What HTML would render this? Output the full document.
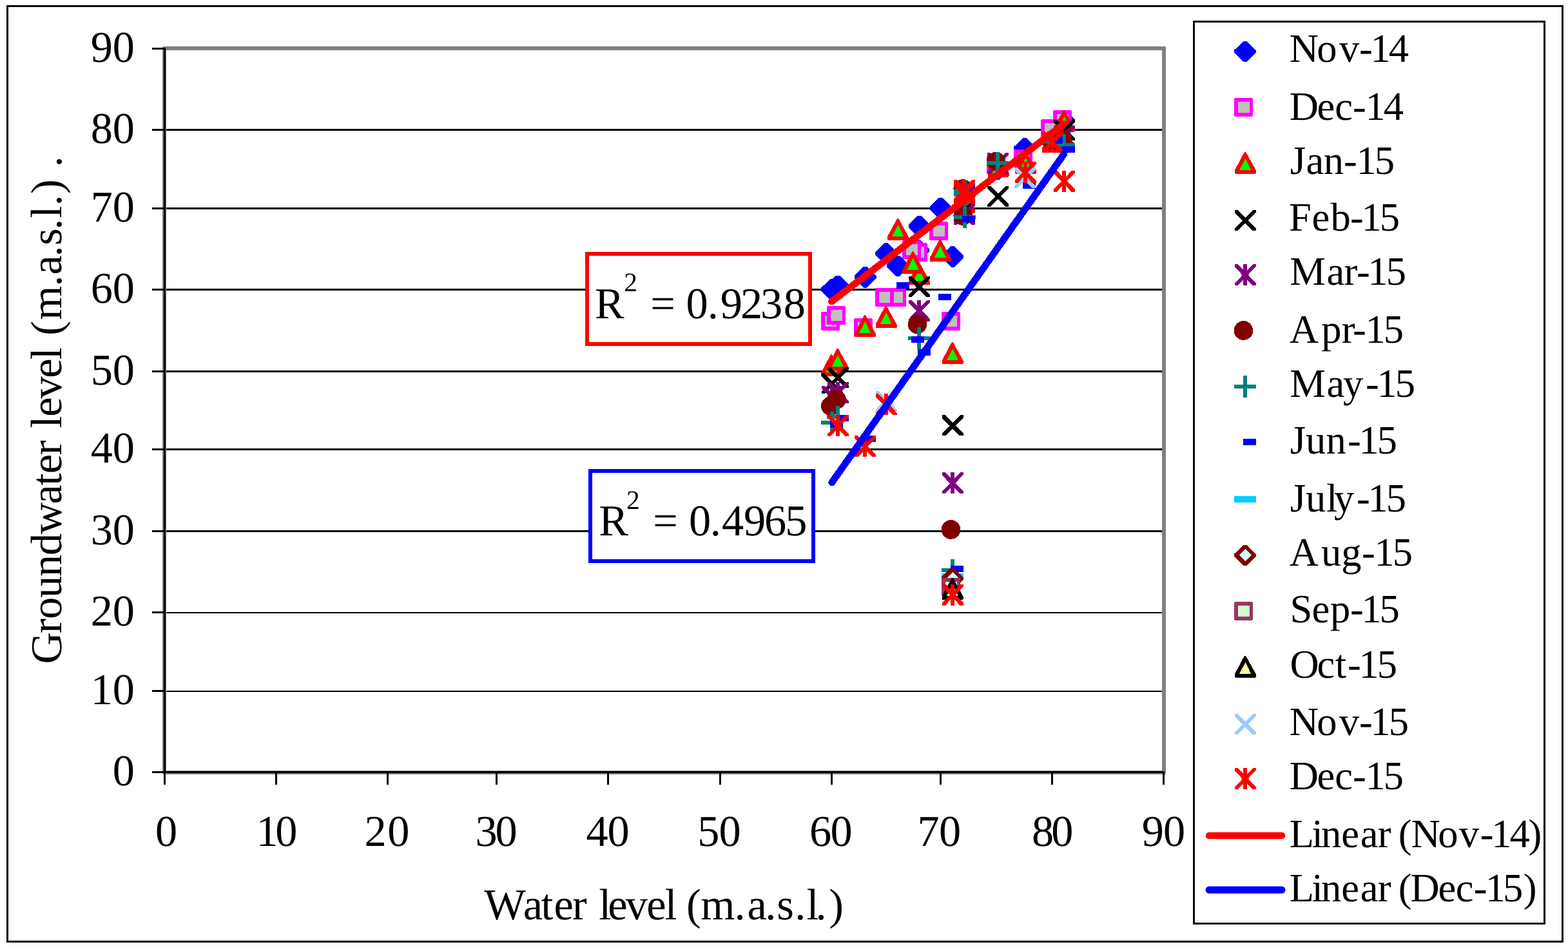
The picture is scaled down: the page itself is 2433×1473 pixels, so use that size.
<!DOCTYPE html>
<html lang="en"><head><meta charset="utf-8"><title>Groundwater level vs water level</title>
<style>html,body{margin:0;padding:0;background:#fff}body{width:2433px;height:1473px;overflow:hidden}svg{display:block}</style>
</head><body>
<svg xmlns="http://www.w3.org/2000/svg" width="2433" height="1473" viewBox="0 0 2433 1473" font-family="'Liberation Serif', 'DejaVu Serif', serif" fill="#000" text-rendering="geometricPrecision">
<rect width="2433" height="1473" fill="#fff"/>
<g shape-rendering="crispEdges">
<rect x="11.5" y="9.5" width="2413" height="1452" fill="none" stroke="#000" stroke-width="3"/>
<rect x="258" y="200" width="1545" height="3" fill="#000"/>
<rect x="258" y="322" width="1545" height="3" fill="#000"/>
<rect x="258" y="448" width="1545" height="3" fill="#000"/>
<rect x="258" y="575" width="1545" height="3" fill="#000"/>
<rect x="258" y="696" width="1545" height="3" fill="#000"/>
<rect x="258" y="823" width="1545" height="3" fill="#000"/>
<rect x="258" y="950" width="1545" height="2" fill="#000"/>
<rect x="258" y="1072" width="1545" height="2" fill="#000"/>
<rect x="255" y="75" width="1551" height="1124" fill="none" stroke="#808080" stroke-width="6" stroke-linejoin="round"/>
<rect x="254" y="74" width="3" height="1126" fill="#000"/>
<rect x="254" y="1197" width="1553" height="3" fill="#000"/>
<rect x="236" y="74" width="20" height="3" fill="#000"/>
<rect x="236" y="200" width="20" height="3" fill="#000"/>
<rect x="236" y="322" width="20" height="3" fill="#000"/>
<rect x="236" y="448" width="20" height="3" fill="#000"/>
<rect x="236" y="575" width="20" height="3" fill="#000"/>
<rect x="236" y="696" width="20" height="3" fill="#000"/>
<rect x="236" y="823" width="20" height="3" fill="#000"/>
<rect x="236" y="949" width="20" height="3" fill="#000"/>
<rect x="236" y="1071" width="20" height="3" fill="#000"/>
<rect x="236" y="1197" width="20" height="3" fill="#000"/>
<rect x="254" y="1198" width="3" height="20" fill="#000"/>
<rect x="427" y="1198" width="3" height="20" fill="#000"/>
<rect x="600" y="1198" width="3" height="20" fill="#000"/>
<rect x="769" y="1198" width="3" height="20" fill="#000"/>
<rect x="942" y="1198" width="3" height="20" fill="#000"/>
<rect x="1116" y="1198" width="3" height="20" fill="#000"/>
<rect x="1289" y="1198" width="3" height="20" fill="#000"/>
<rect x="1458" y="1198" width="3" height="20" fill="#000"/>
<rect x="1631" y="1198" width="3" height="20" fill="#000"/>
<rect x="1804" y="1198" width="3" height="20" fill="#000"/>
</g>
<g id="pts" shape-rendering="crispEdges">
<polygon points="1648.3,171.5 1653.7,171.5 1668,185.7 1668,189.7 1653.7,203.9 1648.3,203.9 1634,189.7 1634,185.7" fill="#0000ff"/>
<polygon points="1587.3,213.8 1592.7,213.8 1607,228 1607,232 1592.7,246.2 1587.3,246.2 1573,232 1573,228" fill="#0000ff"/>
<polygon points="1545.3,246.6 1550.7,246.6 1565,260.8 1565,264.8 1550.7,279 1545.3,279 1531,264.8 1531,260.8" fill="#0000ff"/>
<polygon points="1456.8,307 1462.2,307 1476.5,321.2 1476.5,325.2 1462.2,339.4 1456.8,339.4 1442.5,325.2 1442.5,321.2" fill="#0000ff"/>
<polygon points="1475.6,382.1 1481,382.1 1495.3,396.3 1495.3,400.3 1481,414.5 1475.6,414.5 1461.3,400.3 1461.3,396.3" fill="#0000ff"/>
<polygon points="1423.8,335.2 1429.2,335.2 1443.5,349.4 1443.5,353.4 1429.2,367.6 1423.8,367.6 1409.5,353.4 1409.5,349.4" fill="#0000ff"/>
<polygon points="1422.3,372.3 1427.7,372.3 1442,386.5 1442,390.5 1427.7,404.7 1422.3,404.7 1408,390.5 1408,386.5" fill="#0000ff"/>
<polygon points="1390.4,396.6 1395.8,396.6 1410.1,410.8 1410.1,414.8 1395.8,429 1390.4,429 1376.1,414.8 1376.1,410.8" fill="#0000ff"/>
<polygon points="1372.3,377 1377.7,377 1392,391.2 1392,395.2 1377.7,409.4 1372.3,409.4 1358,395.2 1358,391.2" fill="#0000ff"/>
<polygon points="1339.8,414.1 1345.2,414.1 1359.5,428.3 1359.5,432.3 1345.2,446.5 1339.8,446.5 1325.5,432.3 1325.5,428.3" fill="#0000ff"/>
<polygon points="1287.9,433.2 1293.3,433.2 1307.6,447.4 1307.6,451.4 1293.3,465.6 1287.9,465.6 1273.6,451.4 1273.6,447.4" fill="#0000ff"/>
<polygon points="1297.3,427.7 1302.7,427.7 1317,441.9 1317,445.9 1302.7,460.1 1297.3,460.1 1283,445.9 1283,441.9" fill="#0000ff"/>
<polygon points="1635.4,171 1661.6,171 1663,172.4 1663,198.6 1661.6,200 1635.4,200 1634,198.6 1634,172.4" fill="#ff00ff"/><rect x="1640.2" y="177.1" width="17.6" height="16.8" fill="#c0c0c0"/>
<polygon points="1616.4,185 1642.6,185 1644,186.4 1644,212.6 1642.6,214 1616.4,214 1615,212.6 1615,186.4" fill="#ff00ff"/><rect x="1621.2" y="191.1" width="17.6" height="16.8" fill="#c0c0c0"/>
<polygon points="1574.4,232 1600.6,232 1602,233.4 1602,259.6 1600.6,261 1574.4,261 1573,259.6 1573,233.4" fill="#ff00ff"/><rect x="1579.2" y="238.1" width="17.6" height="16.8" fill="#c0c0c0"/>
<polygon points="1532.4,241 1558.6,241 1560,242.4 1560,268.6 1558.6,270 1532.4,270 1531,268.6 1531,242.4" fill="#ff00ff"/><rect x="1537.2" y="247.1" width="17.6" height="16.8" fill="#c0c0c0"/>
<polygon points="1443.4,343.9 1469.6,343.9 1471,345.3 1471,371.5 1469.6,372.9 1443.4,372.9 1442,371.5 1442,345.3" fill="#ff00ff"/><rect x="1448.2" y="350" width="17.6" height="16.8" fill="#c0c0c0"/>
<polygon points="1462.4,484.1 1488.6,484.1 1490,485.5 1490,511.7 1488.6,513.1 1462.4,513.1 1461,511.7 1461,485.5" fill="#ff00ff"/><rect x="1467.2" y="490.2" width="17.6" height="16.8" fill="#c0c0c0"/>
<polygon points="1411.2,377 1437.4,377 1438.8,378.4 1438.8,404.6 1437.4,406 1411.2,406 1409.8,404.6 1409.8,378.4" fill="#ff00ff"/><rect x="1416" y="383.1" width="17.6" height="16.8" fill="#c0c0c0"/>
<polygon points="1401.4,372.7 1427.6,372.7 1429,374.1 1429,400.3 1427.6,401.7 1401.4,401.7 1400,400.3 1400,374.1" fill="#ff00ff"/><rect x="1406.2" y="378.8" width="17.6" height="16.8" fill="#c0c0c0"/>
<polygon points="1378.5,446.9 1404.7,446.9 1406.1,448.3 1406.1,474.5 1404.7,475.9 1378.5,475.9 1377.1,474.5 1377.1,448.3" fill="#ff00ff"/><rect x="1383.3" y="453" width="17.6" height="16.8" fill="#c0c0c0"/>
<polygon points="1358.9,446.9 1385.1,446.9 1386.5,448.3 1386.5,474.5 1385.1,475.9 1358.9,475.9 1357.5,474.5 1357.5,448.3" fill="#ff00ff"/><rect x="1363.7" y="453" width="17.6" height="16.8" fill="#c0c0c0"/>
<polygon points="1326.5,494 1352.7,494 1354.1,495.4 1354.1,521.6 1352.7,523 1326.5,523 1325.1,521.6 1325.1,495.4" fill="#ff00ff"/><rect x="1331.3" y="500.1" width="17.6" height="16.8" fill="#c0c0c0"/>
<polygon points="1275.4,484.1 1301.6,484.1 1303,485.5 1303,511.7 1301.6,513.1 1275.4,513.1 1274,511.7 1274,485.5" fill="#ff00ff"/><rect x="1280.2" y="490.2" width="17.6" height="16.8" fill="#c0c0c0"/>
<polygon points="1284.6,474.9 1310.8,474.9 1312.2,476.3 1312.2,502.5 1310.8,503.9 1284.6,503.9 1283.2,502.5 1283.2,476.3" fill="#ff00ff"/><rect x="1289.4" y="481" width="17.6" height="16.8" fill="#c0c0c0"/>
<polygon points="1650,171 1652,171 1668,200 1668,203.9 1666.7,205.2 1636.1,205.2 1635,203.9 1635,199.2" fill="#ff0000"/><polygon points="1651.6,181.1 1660.1,199.2 1642,199.2" fill="#00ff00"/>
<polygon points="1631.5,202.8 1633.5,202.8 1649.5,231.8 1649.5,235.7 1648.2,237 1617.6,237 1616.5,235.7 1616.5,231" fill="#ff0000"/><polygon points="1633.1,212.9 1641.6,231 1623.5,231" fill="#00ff00"/>
<polygon points="1590,235.3 1592,235.3 1608,264.3 1608,268.2 1606.7,269.5 1576.1,269.5 1575,268.2 1575,263.5" fill="#ff0000"/><polygon points="1591.6,245.4 1600.1,263.5 1582,263.5" fill="#00ff00"/>
<polygon points="1547.5,240.4 1549.5,240.4 1565.5,269.4 1565.5,273.3 1564.2,274.6 1533.6,274.6 1532.5,273.3 1532.5,268.6" fill="#ff0000"/><polygon points="1549.1,250.5 1557.6,268.6 1539.5,268.6" fill="#00ff00"/>
<polygon points="1495,296.6 1497,296.6 1513,325.6 1513,329.5 1511.7,330.8 1481.1,330.8 1480,329.5 1480,324.8" fill="#ff0000"/><polygon points="1496.6,306.7 1505.1,324.8 1487,324.8" fill="#00ff00"/>
<polygon points="1495,285.3 1497,285.3 1513,314.3 1513,318.2 1511.7,319.5 1481.1,319.5 1480,318.2 1480,313.5" fill="#ff0000"/><polygon points="1496.6,295.4 1505.1,313.5 1487,313.5" fill="#00ff00"/>
<polygon points="1457.7,371.8 1459.7,371.8 1475.7,400.8 1475.7,404.7 1474.4,406 1443.8,406 1442.7,404.7 1442.7,400" fill="#ff0000"/><polygon points="1459.3,381.9 1467.8,400 1449.7,400" fill="#00ff00"/>
<polygon points="1476.8,531.2 1478.8,531.2 1494.8,560.2 1494.8,564.1 1493.5,565.4 1462.9,565.4 1461.8,564.1 1461.8,559.4" fill="#ff0000"/><polygon points="1478.4,541.3 1486.9,559.4 1468.8,559.4" fill="#00ff00"/>
<polygon points="1425,408.2 1427,408.2 1443,437.2 1443,441.1 1441.7,442.4 1411.1,442.4 1410,441.1 1410,436.4" fill="#ff0000"/><polygon points="1426.6,418.3 1435.1,436.4 1417,436.4" fill="#00ff00"/>
<polygon points="1415.4,390.4 1417.4,390.4 1433.4,419.4 1433.4,423.3 1432.1,424.6 1401.5,424.6 1400.4,423.3 1400.4,418.6" fill="#ff0000"/><polygon points="1417,400.5 1425.5,418.6 1407.4,418.6" fill="#00ff00"/>
<polygon points="1392.1,338.9 1394.1,338.9 1410.1,367.9 1410.1,371.8 1408.8,373.1 1378.2,373.1 1377.1,371.8 1377.1,367.1" fill="#ff0000"/><polygon points="1393.7,349 1402.2,367.1 1384.1,367.1" fill="#00ff00"/>
<polygon points="1373.6,474.9 1375.6,474.9 1391.6,503.9 1391.6,507.8 1390.3,509.1 1359.7,509.1 1358.6,507.8 1358.6,503.1" fill="#ff0000"/><polygon points="1375.2,485 1383.7,503.1 1365.6,503.1" fill="#00ff00"/>
<polygon points="1341,489 1343,489 1359,518 1359,521.9 1357.7,523.2 1327.1,523.2 1326,521.9 1326,517.2" fill="#ff0000"/><polygon points="1342.6,499.1 1351.1,517.2 1333,517.2" fill="#00ff00"/>
<polygon points="1289,550.1 1291,550.1 1307,579.1 1307,583 1305.7,584.3 1275.1,584.3 1274,583 1274,578.3" fill="#ff0000"/><polygon points="1290.6,560.2 1299.1,578.3 1281,578.3" fill="#00ff00"/>
<polygon points="1298.7,540.9 1300.7,540.9 1316.7,569.9 1316.7,573.8 1315.4,575.1 1284.8,575.1 1283.7,573.8 1283.7,569.1" fill="#ff0000"/><polygon points="1300.3,551 1308.8,569.1 1290.7,569.1" fill="#00ff00"/>
<polygon points="1635,185.8 1639.7,185.8 1668,214.2 1668,217.8 1662.4,217.8 1635,190.5" fill="#000000"/><polygon points="1663.3,185.8 1668,185.8 1668,189.4 1639.7,217.8 1635,217.8 1635,214.2" fill="#000000"/>
<polygon points="1532.2,288.5 1536.9,288.5 1565.2,316.9 1565.2,320.5 1559.6,320.5 1532.2,293.2" fill="#000000"/><polygon points="1560.5,288.5 1565.2,288.5 1565.2,292.1 1536.9,320.5 1532.2,320.5 1532.2,316.9" fill="#000000"/>
<polygon points="1480,312 1484.7,312 1513,340.4 1513,344 1507.4,344 1480,316.7" fill="#000000"/><polygon points="1508.3,312 1513,312 1513,315.6 1484.7,344 1480,344 1480,340.4" fill="#000000"/>
<polygon points="1462,644.4 1466.7,644.4 1495,672.8 1495,676.4 1489.4,676.4 1462,649.1" fill="#000000"/><polygon points="1490.3,644.4 1495,644.4 1495,648 1466.7,676.4 1462,676.4 1462,672.8" fill="#000000"/>
<polygon points="1410,429 1414.7,429 1443,457.4 1443,461 1437.4,461 1410,433.7" fill="#000000"/><polygon points="1438.3,429 1443,429 1443,432.6 1414.7,461 1410,461 1410,457.4" fill="#000000"/>
<polygon points="1274.5,579.2 1279.2,579.2 1307.5,607.6 1307.5,611.2 1301.9,611.2 1274.5,583.9" fill="#000000"/><polygon points="1302.8,579.2 1307.5,579.2 1307.5,582.8 1279.2,611.2 1274.5,611.2 1274.5,607.6" fill="#000000"/>
<polygon points="1284,569.7 1288.7,569.7 1317,598.1 1317,601.7 1311.4,601.7 1284,574.4" fill="#000000"/><polygon points="1312.3,569.7 1317,569.7 1317,573.3 1288.7,601.7 1284,601.7 1284,598.1" fill="#000000"/>
<polygon points="1635,194.5 1639.7,194.5 1668,223.9 1668,227.5 1662.4,227.5 1635,199.2" fill="#800080"/><polygon points="1663.3,194.5 1668,194.5 1668,198.1 1639.7,227.5 1635,227.5 1635,223.9" fill="#800080"/><rect x="1648" y="194.5" width="6" height="33" fill="#800080"/>
<polygon points="1532,237 1536.7,237 1565,266.4 1565,270 1559.4,270 1532,241.7" fill="#800080"/><polygon points="1560.3,237 1565,237 1565,240.6 1536.7,270 1532,270 1532,266.4" fill="#800080"/><rect x="1545" y="237" width="6" height="33" fill="#800080"/>
<polygon points="1480,315.9 1484.7,315.9 1513,345.3 1513,348.9 1507.4,348.9 1480,320.6" fill="#800080"/><polygon points="1508.3,315.9 1513,315.9 1513,319.5 1484.7,348.9 1480,348.9 1480,345.3" fill="#800080"/><rect x="1493" y="315.9" width="6" height="33" fill="#800080"/>
<polygon points="1462,733.1 1466.7,733.1 1495,762.5 1495,766.1 1489.4,766.1 1462,737.8" fill="#800080"/><polygon points="1490.3,733.1 1495,733.1 1495,736.7 1466.7,766.1 1462,766.1 1462,762.5" fill="#800080"/><rect x="1475" y="733.1" width="6" height="33" fill="#800080"/>
<polygon points="1410,465.7 1414.7,465.7 1443,495.1 1443,498.7 1437.4,498.7 1410,470.4" fill="#800080"/><polygon points="1438.3,465.7 1443,465.7 1443,469.3 1414.7,498.7 1410,498.7 1410,495.1" fill="#800080"/><rect x="1423" y="465.7" width="6" height="33" fill="#800080"/>
<polygon points="1274.5,598.5 1279.2,598.5 1307.5,627.9 1307.5,631.5 1301.9,631.5 1274.5,603.2" fill="#800080"/><polygon points="1302.8,598.5 1307.5,598.5 1307.5,602.1 1279.2,631.5 1274.5,631.5 1274.5,627.9" fill="#800080"/><rect x="1287.5" y="598.5" width="6" height="33" fill="#800080"/>
<polygon points="1284,593 1288.7,593 1317,622.4 1317,626 1311.4,626 1284,597.7" fill="#800080"/><polygon points="1312.3,593 1317,593 1317,596.6 1288.7,626 1284,626 1284,622.4" fill="#800080"/><rect x="1297" y="593" width="6" height="33" fill="#800080"/>
<circle cx="1648.5" cy="214.3" r="14.8" fill="#800000"/>
<circle cx="1631.5" cy="218" r="14.8" fill="#800000"/>
<circle cx="1545.5" cy="250.7" r="14.8" fill="#800000"/>
<circle cx="1494.2" cy="293" r="14.8" fill="#800000"/>
<circle cx="1494.2" cy="335" r="14.8" fill="#800000"/>
<circle cx="1475.5" cy="822" r="14.8" fill="#800000"/>
<circle cx="1423.5" cy="503.5" r="14.8" fill="#800000"/>
<circle cx="1288.8" cy="630.2" r="14.8" fill="#800000"/>
<circle cx="1298" cy="620.2" r="14.8" fill="#800000"/>
<rect x="1634" y="222.2" width="34" height="6" fill="#008080"/><rect x="1648" y="208.2" width="6" height="34" fill="#008080"/>
<rect x="1615.5" y="217" width="34" height="6" fill="#008080"/><rect x="1629.5" y="203" width="6" height="34" fill="#008080"/>
<rect x="1531" y="250" width="34" height="6" fill="#008080"/><rect x="1545" y="236" width="6" height="34" fill="#008080"/>
<rect x="1479.5" y="293" width="34" height="6" fill="#008080"/><rect x="1493.5" y="279" width="6" height="34" fill="#008080"/>
<rect x="1479.5" y="299" width="34" height="6" fill="#008080"/><rect x="1493.5" y="285" width="6" height="34" fill="#008080"/>
<rect x="1480" y="334.3" width="34" height="6" fill="#008080"/><rect x="1494" y="320.3" width="6" height="34" fill="#008080"/>
<rect x="1461" y="882" width="34" height="6" fill="#008080"/><rect x="1475" y="868" width="6" height="34" fill="#008080"/>
<rect x="1409" y="521.7" width="34" height="6" fill="#008080"/><rect x="1423" y="507.7" width="6" height="34" fill="#008080"/>
<rect x="1274" y="653" width="34" height="6" fill="#008080"/><rect x="1288" y="639" width="6" height="34" fill="#008080"/>
<rect x="1283" y="644" width="34" height="6" fill="#008080"/><rect x="1297" y="630" width="6" height="34" fill="#008080"/>
<rect x="1648" y="227" width="20" height="10" fill="#0000ff"/>
<rect x="1629" y="213" width="20" height="10" fill="#0000ff"/>
<rect x="1587" y="283" width="20" height="10" fill="#0000ff"/>
<rect x="1493" y="288" width="20" height="10" fill="#0000ff"/>
<rect x="1493" y="297" width="20" height="10" fill="#0000ff"/>
<rect x="1493.2" y="335" width="20" height="10" fill="#0000ff"/>
<rect x="1456" y="456.4" width="20" height="10" fill="#0000ff"/>
<rect x="1475" y="878" width="20" height="10" fill="#0000ff"/>
<rect x="1423.5" y="541.6" width="20" height="10" fill="#0000ff"/>
<rect x="1414.3" y="522.1" width="20" height="10" fill="#0000ff"/>
<rect x="1391" y="438" width="20" height="10" fill="#0000ff"/>
<rect x="1339.3" y="676" width="20" height="10" fill="#0000ff"/>
<rect x="1288.2" y="653.7" width="20" height="10" fill="#0000ff"/>
<rect x="1297" y="644" width="20" height="10" fill="#0000ff"/>
<rect x="1461" y="890" width="34" height="10" fill="#00ccff"/>
<polygon points="1475,881.8 1480.4,881.8 1494.7,896 1494.7,900 1480.4,914.2 1475,914.2 1460.7,900 1460.7,896" fill="#800000"/><polygon points="1478.2,888 1487.9,897.7 1478.2,907.4 1468.5,897.7" fill="#ccffff"/>
<polygon points="1462.4,897 1488.6,897 1490,898.4 1490,924.6 1488.6,926 1462.4,926 1461,924.6 1461,898.4" fill="#993366"/><rect x="1467.2" y="903.1" width="17.6" height="16.8" fill="#ccffcc"/>
<polygon points="1476.7,897 1478.7,897 1494.7,926 1494.7,929.9 1493.4,931.2 1462.8,931.2 1461.7,929.9 1461.7,925.2" fill="#000000"/><polygon points="1478.3,907.1 1486.8,925.2 1468.7,925.2" fill="#ffff99"/>
<polygon points="1574,260 1578.7,260 1607,288.4 1607,292 1601.4,292 1574,264.7" fill="#99ccff"/><polygon points="1602.3,260 1607,260 1607,263.6 1578.7,292 1574,292 1574,288.4" fill="#99ccff"/>
<polygon points="1358.6,607.2 1363.3,607.2 1391.6,635.6 1391.6,639.2 1386,639.2 1358.6,611.9" fill="#99ccff"/><polygon points="1386.9,607.2 1391.6,607.2 1391.6,610.8 1363.3,639.2 1358.6,639.2 1358.6,635.6" fill="#99ccff"/>
<polygon points="1635,264.5 1639.7,264.5 1668,293.9 1668,297.5 1662.4,297.5 1635,269.2" fill="#ff0000"/><polygon points="1663.3,264.5 1668,264.5 1668,268.1 1639.7,297.5 1635,297.5 1635,293.9" fill="#ff0000"/><rect x="1648" y="264.5" width="6" height="33" fill="#ff0000"/>
<polygon points="1616.5,204 1621.2,204 1649.5,233.4 1649.5,237 1643.9,237 1616.5,208.7" fill="#ff0000"/><polygon points="1644.8,204 1649.5,204 1649.5,207.6 1621.2,237 1616.5,237 1616.5,233.4" fill="#ff0000"/><rect x="1629.5" y="204" width="6" height="33" fill="#ff0000"/>
<polygon points="1574.5,251 1579.2,251 1607.5,280.4 1607.5,284 1601.9,284 1574.5,255.7" fill="#ff0000"/><polygon points="1602.8,251 1607.5,251 1607.5,254.6 1579.2,284 1574.5,284 1574.5,280.4" fill="#ff0000"/><rect x="1587.5" y="251" width="6" height="33" fill="#ff0000"/>
<polygon points="1480,279 1484.7,279 1513,308.4 1513,312 1507.4,312 1480,283.7" fill="#ff0000"/><polygon points="1508.3,279 1513,279 1513,282.6 1484.7,312 1480,312 1480,308.4" fill="#ff0000"/><rect x="1493" y="279" width="6" height="33" fill="#ff0000"/>
<polygon points="1480,284 1484.7,284 1513,313.4 1513,317 1507.4,317 1480,288.7" fill="#ff0000"/><polygon points="1508.3,284 1513,284 1513,287.6 1484.7,317 1480,317 1480,313.4" fill="#ff0000"/><rect x="1493" y="284" width="6" height="33" fill="#ff0000"/>
<polygon points="1462,906.5 1466.7,906.5 1495,935.9 1495,939.5 1489.4,939.5 1462,911.2" fill="#ff0000"/><polygon points="1490.3,906.5 1495,906.5 1495,910.1 1466.7,939.5 1462,939.5 1462,935.9" fill="#ff0000"/><rect x="1475" y="906.5" width="6" height="33" fill="#ff0000"/>
<polygon points="1358.6,611.3 1363.3,611.3 1391.6,640.7 1391.6,644.3 1386,644.3 1358.6,616" fill="#ff0000"/><polygon points="1386.9,611.3 1391.6,611.3 1391.6,614.9 1363.3,644.3 1358.6,644.3 1358.6,640.7" fill="#ff0000"/><rect x="1371.6" y="611.3" width="6" height="33" fill="#ff0000"/>
<polygon points="1326.3,676.4 1331,676.4 1359.3,705.8 1359.3,709.4 1353.7,709.4 1326.3,681.1" fill="#ff0000"/><polygon points="1354.6,676.4 1359.3,676.4 1359.3,680 1331,709.4 1326.3,709.4 1326.3,705.8" fill="#ff0000"/><rect x="1339.3" y="676.4" width="6" height="33" fill="#ff0000"/>
<polygon points="1284,644.1 1288.7,644.1 1317,673.5 1317,677.1 1311.4,677.1 1284,648.8" fill="#ff0000"/><polygon points="1312.3,644.1 1317,644.1 1317,647.7 1288.7,677.1 1284,677.1 1284,673.5" fill="#ff0000"/><rect x="1297" y="644.1" width="6" height="33" fill="#ff0000"/>
<line x1="1290.5" y1="468" x2="1651" y2="192.2" stroke="#ff0000" stroke-width="10.8" stroke-linecap="round"/>
<line x1="1290.7" y1="749" x2="1651" y2="239.1" stroke="#0000ff" stroke-width="10.8" stroke-linecap="round"/>
</g>
<g shape-rendering="crispEdges">
<rect x="1852.5" y="33.5" width="544" height="1400" fill="#fff" stroke="#000" stroke-width="3"/>
<polygon points="1929.3,63.8 1934.7,63.8 1949,78 1949,82 1934.7,96.2 1929.3,96.2 1915,82 1915,78" fill="#0000ff"/>
<polygon points="1916.4,152 1942.6,152 1944,153.4 1944,179.6 1942.6,181 1916.4,181 1915,179.6 1915,153.4" fill="#ff00ff"/><rect x="1921.2" y="158.1" width="17.6" height="16.8" fill="#c0c0c0"/>
<polygon points="1931,235.8 1933,235.8 1949,264.8 1949,268.7 1947.7,270 1917.1,270 1916,268.7 1916,264" fill="#ff0000"/><polygon points="1932.6,245.9 1941.1,264 1923,264" fill="#00ff00"/>
<polygon points="1916,326 1920.7,326 1949,354.4 1949,358 1943.4,358 1916,330.7" fill="#000000"/><polygon points="1944.3,326 1949,326 1949,329.6 1920.7,358 1916,358 1916,354.4" fill="#000000"/>
<polygon points="1916,410 1920.7,410 1949,439.4 1949,443 1943.4,443 1916,414.7" fill="#800080"/><polygon points="1944.3,410 1949,410 1949,413.6 1920.7,443 1916,443 1916,439.4" fill="#800080"/><rect x="1929" y="410" width="6" height="33" fill="#800080"/>
<circle cx="1929.5" cy="513" r="14.8" fill="#800000"/>
<rect x="1915" y="597" width="34" height="6" fill="#008080"/><rect x="1929" y="583" width="6" height="34" fill="#008080"/>
<rect x="1929" y="681" width="20" height="10" fill="#0000ff"/>
<rect x="1915" y="770" width="34" height="10" fill="#00ccff"/>
<polygon points="1929.3,845.8 1934.7,845.8 1949,860 1949,864 1934.7,878.2 1929.3,878.2 1915,864 1915,860" fill="#800000"/><polygon points="1932.5,852 1942.2,861.7 1932.5,871.4 1922.8,861.7" fill="#ccffff"/>
<polygon points="1916.4,934 1942.6,934 1944,935.4 1944,961.6 1942.6,963 1916.4,963 1915,961.6 1915,935.4" fill="#993366"/><rect x="1921.2" y="940.1" width="17.6" height="16.8" fill="#ccffcc"/>
<polygon points="1931,1017.8 1933,1017.8 1949,1046.8 1949,1050.7 1947.7,1052 1917.1,1052 1916,1050.7 1916,1046" fill="#000000"/><polygon points="1932.6,1027.9 1941.1,1046 1923,1046" fill="#ffff99"/>
<polygon points="1916,1108 1920.7,1108 1949,1136.4 1949,1140 1943.4,1140 1916,1112.7" fill="#99ccff"/><polygon points="1944.3,1108 1949,1108 1949,1111.6 1920.7,1140 1916,1140 1916,1136.4" fill="#99ccff"/>
<polygon points="1916,1192 1920.7,1192 1949,1221.4 1949,1225 1943.4,1225 1916,1196.7" fill="#ff0000"/><polygon points="1944.3,1192 1949,1192 1949,1195.6 1920.7,1225 1916,1225 1916,1221.4" fill="#ff0000"/><rect x="1929" y="1192" width="6" height="33" fill="#ff0000"/>
</g>
<line x1="1876" y1="1297" x2="1989" y2="1297" stroke="#ff0000" stroke-width="10.5" stroke-linecap="round"/>
<line x1="1876" y1="1381.3" x2="1989" y2="1381.3" stroke="#0000ff" stroke-width="11" stroke-linecap="round"/>
<g id="legend-text">
<text x="2000.65 2043.32 2077.88 2109.11 2126.41 2154.75" y="95.6" font-size="62.5">Nov-14</text>
<text x="2000.68 2043.59 2071.2 2099.06 2118.56 2146.7" y="185.7" font-size="62.5">Dec-14</text>
<text x="2001.74 2026.51 2053.73 2084.96 2104.46 2132.68" y="269.6" font-size="62.5">Jan-15</text>
<text x="1999.9 2035.49 2064.42 2094.96 2112.56 2140.78" y="357.8" font-size="62.5">Feb-15</text>
<text x="2001.28 2058.56 2085.59 2105.06 2122.51 2150.83" y="441.5" font-size="62.5">Mar-15</text>
<text x="2000.81 2050.24 2081.79 2099.06 2118.56 2146.63" y="531.7" font-size="62.5">Apr-15</text>
<text x="2001.28 2058.56 2083.92 2119.01 2136.46 2164.68" y="615.7" font-size="62.5">May-15</text>
<text x="2001.74 2026 2057.53 2091.01 2108.41 2136.63" y="703.7" font-size="62.5">Jun-15</text>
<text x="2001.74 2026 2057.92 2070.07 2105.06 2122.51 2150.73" y="794" font-size="62.5">July-15</text>
<text x="2000.81 2050.1 2081.18 2112.91 2132.41 2160.63" y="877.7" font-size="62.5">Aug-15</text>
<text x="2001.47 2035.49 2063.94 2094.96 2112.56 2140.53" y="966.1" font-size="62.5">Sep-15</text>
<text x="2001.38 2043.5 2071.65 2091.01 2108.41 2136.63" y="1051.9" font-size="62.5">Oct-15</text>
<text x="2000.65 2043.32 2077.88 2109.11 2126.41 2154.63" y="1140.7" font-size="62.5">Nov-15</text>
<text x="2000.68 2043.59 2071.2 2099.06 2118.56 2146.63" y="1224.7" font-size="62.5">Dec-15</text>
<text x="2000.64 2035.61 2050.03 2081.29 2110.76 2137.79 2156.09 2169.83 2189.5 2231.18 2264.03 2296.81 2314.31 2342.55 2371.56" y="1315.1" font-size="62.5">Linear (Nov-14)</text>
<text x="2000.64 2035.61 2050.03 2081.29 2110.76 2137.79 2156.09 2169.83 2188.38 2231.54 2258.85 2286.86 2304.81 2332.08 2363.66" y="1399.1" font-size="62.5">Linear (Dec-15)</text>
</g>
<g id="ytick">
<text x="140.7 174.85" y="96.4" font-size="68.3">90</text>
<text x="140.7 174.85" y="222.4" font-size="68.3">80</text>
<text x="140.7 174.85" y="344.4" font-size="68.3">70</text>
<text x="140.7 174.85" y="470.4" font-size="68.3">60</text>
<text x="140.7 174.85" y="597.4" font-size="68.3">50</text>
<text x="140.7 174.85" y="718.4" font-size="68.3">40</text>
<text x="140.7 174.85" y="845.4" font-size="68.3">30</text>
<text x="140.7 174.85" y="971.4" font-size="68.3">20</text>
<text x="140.7 174.85" y="1093.4" font-size="68.3">10</text>
<text x="174.85" y="1219.4" font-size="68.3">0</text>
</g>
<g id="xtick">
<text x="241.07" y="1312.6" font-size="68.3">0</text>
<text x="397.5 427.15" y="1312.6" font-size="68.3">10</text>
<text x="565.6 601.25" y="1312.6" font-size="68.3">20</text>
<text x="737.53 768.55" y="1312.6" font-size="68.3">30</text>
<text x="909.47 942.55" y="1312.6" font-size="68.3">40</text>
<text x="1082.23 1115.55" y="1312.6" font-size="68.3">50</text>
<text x="1256.07 1288.55" y="1312.6" font-size="68.3">60</text>
<text x="1423.6 1457.05" y="1312.6" font-size="68.3">70</text>
<text x="1600.9 1631.25" y="1312.6" font-size="68.3">80</text>
<text x="1771.7 1804.95" y="1312.6" font-size="68.3">90</text>
</g>
<text x="751.3 811.66 839.48 859.39 887.94 911.57 929.31 943.24 970.77 1003.34 1031.46 1049.16 1065.08 1087.25 1139.56 1159.61 1187.31 1205.29 1233.26 1251.61 1265.61 1286.18" y="1427" font-size="68.3">Water level (m.a.s.l.)</text>
<g transform="translate(95.0 1030) rotate(-90)"><text x="-0.5 47.11 69.06 102.02 134.98 167.94 200.9 247.46 276.51 294.69 323.74 347.6 365.51 383.34 411.51 443.24 471.66 491.46 509.28 533.35 585.51 603.61 631.51 649.34 673.31 691.51 710.41 729.13 752.74 770.46" y="0" font-size="68.3">Groundwater level (m.a.s.l.) .</text></g>
<g shape-rendering="crispEdges">
<rect x="911" y="394" width="346" height="140" fill="#fff" stroke="#ff0000" stroke-width="6"/>
<rect x="916" y="731" width="346" height="140" fill="#fff" stroke="#0000ff" stroke-width="6"/>
</g>
<g><text x="922.99" y="494.2" font-size="68.3">R</text><text x="968.21" y="451.6" font-size="41.5">2</text><text x="1009.21 1047.5 1064.47 1097.66 1117.78 1149.11 1180.02 1215.72" y="494.2" font-size="68.3">= 0.9238</text></g>
<g><text x="929.29" y="830.6" font-size="68.3">R</text><text x="972.06" y="790" font-size="41.5">2</text><text x="1013.31 1051.88 1068.98 1101.76 1119.94 1153.98 1186.07 1218.32" y="830.6" font-size="68.3">= 0.4965</text></g>
</svg>
</body></html>
